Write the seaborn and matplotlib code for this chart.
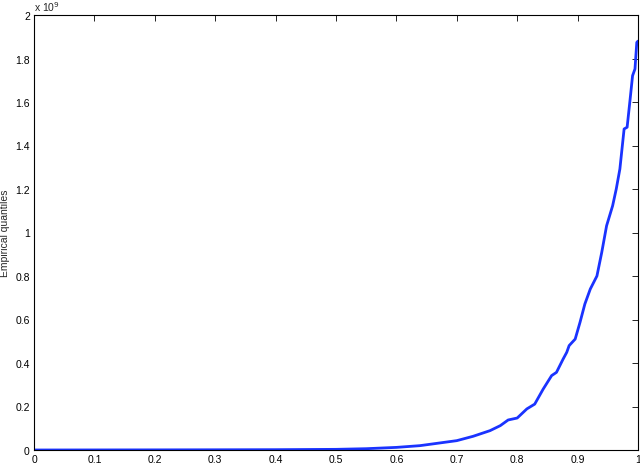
import numpy as np
import pandas as pd
import seaborn as sns
import matplotlib
matplotlib.use('Agg')
import matplotlib.pyplot as plt

# ---------------------------
# Data (quantiles in units of 1e9)
# ---------------------------
prob = [0, 0.1, 0.2, 0.3, 0.4, 0.5, 0.55, 0.6, 0.639, 0.7, 0.727, 0.755, 0.772,
        0.785, 0.8, 0.816, 0.829, 0.843, 0.857, 0.865, 0.876, 0.882, 0.886,
        0.896, 0.904, 0.912, 0.921, 0.932, 0.94, 0.948, 0.958, 0.964, 0.970,
        0.977, 0.982, 0.987, 0.991, 0.995, 0.998, 1.0]
quant = [0, 0.0003, 0.0006, 0.001, 0.0015, 0.003, 0.006, 0.012, 0.02, 0.043,
         0.063, 0.089, 0.112, 0.138, 0.147, 0.189, 0.211, 0.28, 0.342, 0.357,
         0.418, 0.449, 0.48, 0.51, 0.587, 0.671, 0.74, 0.80, 0.909, 1.031,
         1.123, 1.2, 1.292, 1.476, 1.484, 1.614, 1.721, 1.752, 1.874, 1.88]

xticks = [0, 0.1, 0.2, 0.3, 0.4, 0.5, 0.6, 0.7, 0.8, 0.9, 1]
xlabels = ['0', '0.1', '0.2', '0.3', '0.4', '0.5', '0.6', '0.7', '0.8', '0.9', '1']
yticks = [0, 0.2, 0.4, 0.6, 0.8, 1.0, 1.2, 1.4, 1.6, 1.8, 2.0]
ylabels = ['0', '0.2', '0.4', '0.6', '0.8', '1', '1.2', '1.4', '1.6', '1.8', '2']

df = pd.DataFrame({'p': prob, 'q': quant})

# ---------------------------
# Plot
# ---------------------------
sns.set_style('white')
plt.rcParams['font.family'] = ['Liberation Sans', 'DejaVu Sans']

fig = plt.figure(figsize=(6.4, 4.64), dpi=100)
ax = fig.add_axes([34 / 640, 13 / 464, 604 / 640, 435 / 464])

sns.lineplot(data=df, x='p', y='q', ax=ax, color='#1a33ff', linewidth=2.0)

ax.set_xlim(0, 1)
ax.set_ylim(0, 2)
ax.set_xticks(xticks)
ax.set_xticklabels(xlabels)
ax.set_yticks(yticks)
ax.set_yticklabels(ylabels)
ax.tick_params(direction='in', length=4, width=0.6, labelsize=7.5,
               top=True, right=True, pad=3, colors='black')
for s in ax.spines.values():
    s.set_color('black')
    s.set_linewidth(0.8)

ax.set_xlabel('')
ax.set_ylabel('Empirical quantiles', fontsize=7.5, labelpad=4)
ax.text(0.0, 1.005, 'x 10$^9$', transform=ax.transAxes, fontsize=7.5,
        ha='left', va='bottom')

fig.savefig('out.png', dpi=100)
